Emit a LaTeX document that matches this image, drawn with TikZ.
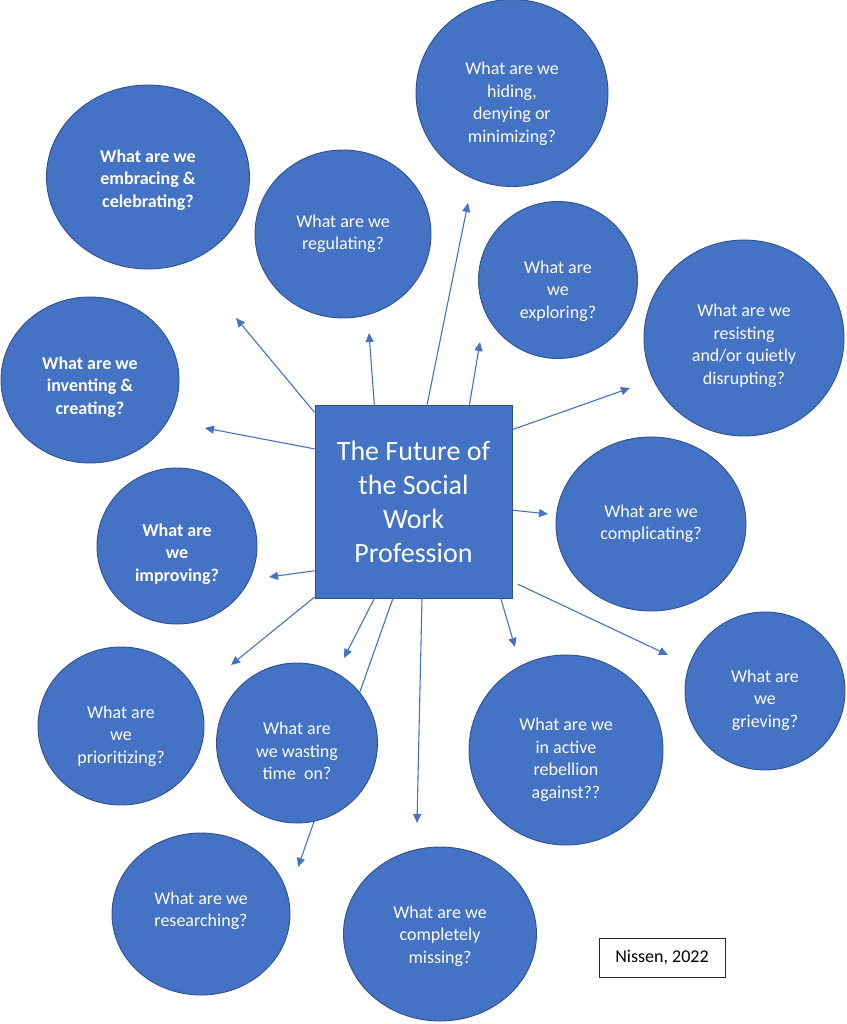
\documentclass[tikz,border=0pt]{standalone}
\usepackage{fontspec}
\setmainfont{Carlito}
\usetikzlibrary{shapes.geometric,arrows.meta}
\definecolor{qblue}{RGB}{68,114,196}
\definecolor{qedge}{RGB}{47,82,143}
\begin{document}
\begin{tikzpicture}
[x=1pt,y=-1pt,%
  qbub/.style={shape=ellipse,inner sep=0pt,fill=qblue,draw=qedge,line width=0.9pt,
    text=white,align=center,font=\fontsize{18}{22.5}\selectfont},%
  qbold/.style={qbub,font=\fontsize{18}{22.5}\selectfont\bfseries},%
  qarr/.style={-{Triangle[length=9pt,width=8pt]},draw=qblue,line width=1.1pt}]
\useasboundingbox (0,0) rectangle (846,1024);
\node[rectangle,fill=qblue,draw=qedge,line width=0.9pt,text=white,align=center,
  minimum width=197pt,minimum height=193pt,font=\fontsize{28}{34}\selectfont]
  (fut) at (413.5,501.5) {The Future of\\the Social\\Work\\Profession};
\coordinate (emb-tip) at (236,318);
\coordinate (reg-tip) at (369,333);
\coordinate (hid-tip) at (468,203);
\coordinate (expl-tip) at (480,342);
\coordinate (res-tip) at (630,388);
\coordinate (inv-tip) at (205,428);
\coordinate (cmpl-tip) at (548,514);
\coordinate (impr-tip) at (269,577);
\coordinate (prio-tip) at (231,665);
\coordinate (wast-tip) at (344,658);
\coordinate (rsrch-tip) at (298,867);
\coordinate (miss-tip) at (417,823);
\coordinate (rebel-tip) at (515,647);
\coordinate (grief-tip) at (668,655);
\draw[qarr] (fut.138) -- (emb-tip);
\draw[qarr] (fut.112.3) -- (reg-tip);
\draw[qarr] (fut.82) -- (hid-tip);
\draw[qarr] (fut.60.1) -- (expl-tip);
\draw[qarr] (fut.36) -- (res-tip);
\draw[qarr] (fut.152.4) -- (inv-tip);
\draw[qarr] (fut.355) -- (cmpl-tip);
\draw[qarr] (fut.215.6) -- (impr-tip);
\draw[qarr] (fut.224) -- (prio-tip);
\draw[qarr] (fut.248.8) -- (wast-tip);
\draw[qarr] (fut.258.6) -- (rsrch-tip);
\draw[qarr] (fut.275) -- (miss-tip);
\draw[qarr] (fut.312.5) -- (rebel-tip);
\draw[qarr,shorten <=6pt] (fut.321.4) -- (grief-tip);
\node[qbold,minimum width=203pt,minimum height=184pt] (emb) at (148,177)
  {\rule{0pt}{18.5pt}What are we\\embracing \&\\celebrating?};
\node[qbub,minimum width=176pt,minimum height=168pt] (reg) at (343,234)
  {What are we\\regulating?};
\node[qbub,minimum width=192pt,minimum height=187pt] (hid) at (512,93)
  {\rule{0pt}{34.5pt}What are we\\hiding,\\denying or\\minimizing?};
\node[qbub,minimum width=159pt,minimum height=157pt] (expl) at (558,280)
  {\rule{0pt}{34.5pt}What are\\we\\exploring?};
\node[qbub,minimum width=200pt,minimum height=196pt] (res) at (744,338)
  {\rule{0pt}{28.5pt}What are we\\resisting\\and/or quietly\\disrupting?};
\node[qbold,minimum width=178pt,minimum height=166pt] (inv) at (90,380)
  {\rule{0pt}{26.5pt}What are we\\inventing \&\\creating?};
\node[qbub,minimum width=190pt,minimum height=174pt] (cmpl) at (651,524)
  {What are we\\complicating?};
\node[qbold,minimum width=160pt,minimum height=156pt] (impr) at (177,546)
  {\rule{0pt}{28.5pt}What are\\we\\improving?};
\node[qbub,minimum width=166pt,minimum height=158pt] (prio) at (121,726)
  {\rule{0pt}{32.5pt}What are\\we\\prioritizing?};
\node[qbub,minimum width=161pt,minimum height=160pt] (wast) at (297,743)
  {\rule{0pt}{28.5pt}What are\\we wasting\\time\ \ on?};
\node[qbub,minimum width=194pt,minimum height=190pt] (rebel) at (566,750)
  {\rule{0pt}{32.5pt}What are we\\in active\\rebellion\\against??};
\node[qbub,minimum width=160pt,minimum height=158pt] (grief) at (765,691)
  {\rule{0pt}{30.5pt}What are\\we\\grieving?};
\node[qbub,minimum width=178pt,minimum height=162pt] (rsrch) at (201,914)
  {What are we\\researching?\rule[-10pt]{0pt}{10pt}};
\node[qbub,minimum width=193pt,minimum height=174pt] (miss) at (440,934)
  {\rule{0pt}{16.5pt}What are we\\completely\\missing?};
\node[rectangle,draw=black!85,line width=0.8pt,fill=white,
  minimum width=126pt,minimum height=39pt,font=\fontsize{18}{22}\selectfont]
  (cite) at (662,957.5) {Nissen, 2022};
\end{tikzpicture}
\end{document}
